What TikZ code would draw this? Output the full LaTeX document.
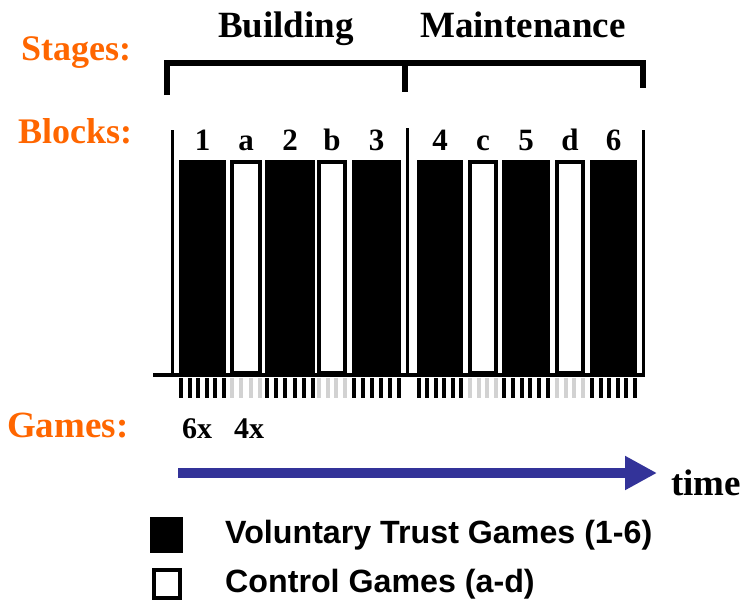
\documentclass[tikz,border=0pt]{standalone}
\usepackage{fontspec}
\setmainfont{Liberation Serif}
\setsansfont{Liberation Sans}
\usetikzlibrary{positioning,arrows.meta}
\definecolor{stageorange}{RGB}{255,102,0}
\definecolor{timeblue}{RGB}{51,51,153}
\begin{document}
\begin{tikzpicture}[
  x=1pt, y=-1pt,
  rowhead/.style={anchor=base west, inner sep=0pt, text=stageorange,
    font=\fontsize{36}{39}\selectfont\bfseries},
  stage/.style={anchor=base, inner sep=0pt, font=\fontsize{37}{40}\selectfont\bfseries},
  lbl/.style={anchor=base, inner sep=0pt, font=\fontsize{31}{34}\selectfont\bfseries},
  trust/.style={draw=black, fill=black, line width=4pt, outer sep=2pt, inner sep=0pt,
    anchor=north west, minimum height=211pt},
  ctrl/.style={trust, fill=white},
  sep/.style={line width=3pt},
  legend/.style={anchor=west, inner sep=0pt, font=\sffamily\bfseries\fontsize{32.2}{35}\selectfont}
]
% row headings
\node[rowhead] (stages) at (21,60) {Stages:};
\node[rowhead] (blocks) at (18,143) {Blocks:};
\node[rowhead, font=\fontsize{37}{40}\selectfont\bfseries] (games) at (7,437) {Games:};

% stages with bracket
\node[stage] (building) at (286,37) {Building};
\node[stage] (maint) at (523,37) {Maintenance};
\draw[line width=6pt] (167,95) -- (167,63) -- (643,63) -- (643,88);
\draw[line width=6pt] (405,63) -- (405,92);

% blocks, labels and games
\foreach \nm/\xl/\xr/\kind/\n/\tc in {1/179/226/trust/6/black, a/230/262/ctrl/4/gray!35,
    2/265/315/trust/6/black, b/317/347/ctrl/4/gray!35, 3/352/401/trust/6/black,
    4/417/463/trust/6/black, c/468/498/ctrl/4/gray!35, 5/502/550/trust/6/black,
    d/555/585/ctrl/4/gray!35, 6/590/637/trust/6/black} {
  \node[\kind, minimum width=\xr-\xl-4] (blk\nm) at (\xl,160) {};
  \node[lbl] (lbl\nm) at ([yshift=10pt]blk\nm.north) {\nm};
  \foreach \i in {1,...,\n} {
    \pgfmathsetmacro\tx{\xl+2+(\i-1)*(\xr-\xl-4)/(\n-1)}
    \draw[line width=4pt, \tc] (\tx,378) -- (\tx,398);
  }
}

% separators and axis
\draw[sep] (172,130) -- (172,375);
\draw[sep] (407,128) -- (407,375);
\draw[sep] (643,130) -- (643,375);
\draw[line width=4pt] (153,375) -- (645,375);

\node[lbl, font=\fontsize{30}{33}\selectfont\bfseries] (six) at (197,438) {6x};
\node[lbl, font=\fontsize{30}{33}\selectfont\bfseries] (four) at (249,438) {4x};

% time arrow
\coordinate (tstart) at (178,473);
\node[anchor=base west, inner sep=0pt, font=\fontsize{37}{40}\selectfont\bfseries] (time) at (671,495) {time};
\draw[timeblue, line width=10pt, -{Triangle[length=32pt, width=32pt]}]
  (tstart) -- ([xshift=-14pt]time.west |- tstart);

% legend
\node[trust, minimum width=29pt, minimum height=32pt] (keytrust) at (150,517) {};
\node[ctrl, minimum width=26pt, minimum height=28pt] (keyctrl) at (152,568) {};
\node[legend] (txttrust) at (225,535) {Voluntary Trust Games (1-6)};
\node[legend] (txtctrl) at (225,584) {Control Games (a-d)};

\useasboundingbox (0,0) rectangle (750,608);
\end{tikzpicture}
\end{document}
